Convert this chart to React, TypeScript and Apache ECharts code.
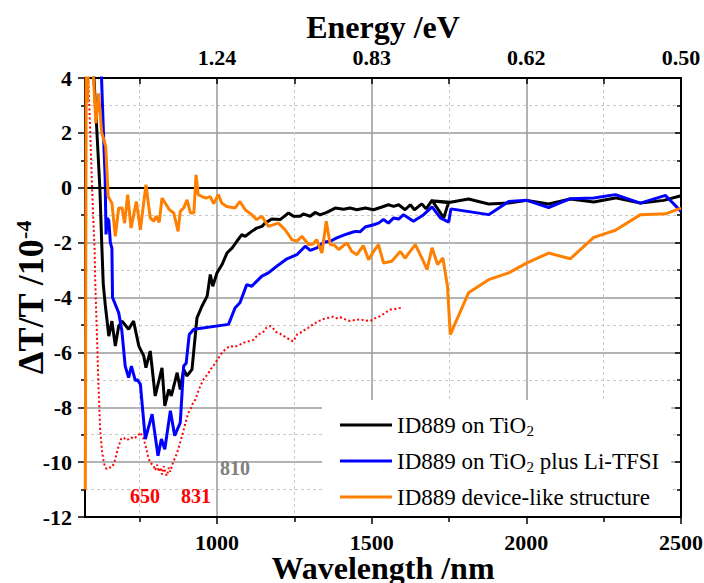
import React, { useEffect, useRef } from "react";
import * as echarts from "echarts";

const FONT = "Liberation Serif";

// Axis settings (values only)
const xMin = 573;
const xMax = 2500;
const xMajorTicks = [1000, 1500, 2000, 2500];
const xMinorTicks = [750, 1250, 1750, 2250];
const xTopTicks = [750, 1000, 1250, 1500, 1750, 2000, 2250, 2500];
const yMin = -12;
const yMax = 4;
const yInterval = 2;

const legendNames = [
  "ID889 on TiO2",
  "ID889 on TiO2 plus Li-TFSI",
  "ID889 device-like structure",
];

// [wavelength nm, dT/T x1e-4]
const blackData = [
  [598, 4.8], [610, 2.36], [621, 0], [627, -2.0], [632, -3.5], [639, -4.32], [650, -5.41],
  [660, -4.86], [671, -5.77], [682, -5.04], [693, -4.86], [714, -5.16], [730, -4.86],
  [747, -5.77], [763, -6.13], [770, -6.56], [784, -5.95], [800, -7.59], [822, -6.56],
  [831, -7.95], [844, -7.35], [852, -7.59], [871, -6.74], [881, -7.35], [892, -6.62],
  [903, -6.86], [919, -6.62], [935, -4.74], [951, -4.32], [968, -3.95], [978, -3.16],
  [986, -3.59], [1000, -3.1], [1016, -2.8], [1032, -2.38], [1049, -2.19], [1064, -1.95],
  [1080, -1.71], [1091, -1.77], [1112, -1.59], [1128, -1.47], [1145, -1.41], [1155, -1.29],
  [1177, -1.14], [1204, -1.16], [1231, -0.92], [1247, -1.04], [1269, -1.04], [1279, -0.95],
  [1301, -1.04], [1317, -0.9], [1333, -0.99], [1355, -0.9], [1382, -0.74], [1409, -0.78],
  [1430, -0.74], [1452, -0.8], [1479, -0.74], [1506, -0.8], [1533, -0.7], [1554, -0.62],
  [1571, -0.68], [1587, -0.62], [1608, -0.8], [1625, -0.62], [1638, -0.8], [1662, -0.59],
  [1676, -0.77], [1695, -0.46], [1733, -1.1], [1748, -0.55], [1692, -0.47], [1754, -0.53],
  [1813, -0.41], [1878, -0.59], [1943, -0.56], [2002, -0.46], [2072, -0.59], [2142, -0.41],
  [2218, -0.52], [2288, -0.37], [2369, -0.56], [2444, -0.46], [2500, -0.29],
];

const blueData = [
  [624, 4.8], [632, 2.2], [638, 0.4], [641, -1.7], [645, -1.1], [650, -1.2], [655, -2.0],
  [660, -2.2], [662, -4.0], [682, -4.56], [692, -5.2], [703, -6.5], [714, -6.92], [723, -6.5],
  [736, -7.04], [741, -6.98], [752, -7.16], [768, -9.16], [790, -8.25], [809, -9.77],
  [820, -9.16], [831, -9.53], [849, -8.13], [863, -9.04], [881, -8.56], [892, -6.5],
  [900, -6.4], [910, -5.35], [925, -5.16], [1037, -4.98], [1058, -4.38], [1074, -4.19],
  [1096, -3.53], [1112, -3.59], [1145, -3.22], [1166, -3.1], [1193, -2.86], [1226, -2.59],
  [1258, -2.44], [1285, -2.13], [1301, -2.28], [1323, -2.19], [1344, -1.99], [1366, -1.95],
  [1387, -1.83], [1414, -1.71], [1430, -1.65], [1447, -1.59], [1463, -1.6], [1479, -1.43],
  [1506, -1.35], [1522, -1.29], [1538, -1.16], [1554, -1.29], [1571, -1.1], [1587, -1.14],
  [1603, -0.98], [1635, -1.22], [1668, -0.98], [1695, -0.7], [1722, -1.1], [1749, -1.25],
  [1756, -0.77], [1878, -0.98], [1943, -0.5], [2002, -0.46], [2072, -0.72], [2142, -0.4],
  [2218, -0.37], [2288, -0.25], [2369, -0.56], [2450, -0.28], [2500, -0.86],
];

const orangeData = [
  [574, -11], [577, 4.8], [581, 3.1], [585, 4.8], [597, 4.8], [608, 2.35], [617, 3.44],
  [627, 2.0], [634, 1.75], [640, 1.5], [648, -0.32], [660, -0.56], [671, -1.77], [682, -0.74],
  [693, -0.74], [701, -1.29], [711, -0.25], [722, -1.47], [739, -0.5], [752, -1.53],
  [770, 0.11], [784, -1.1], [795, -1.22], [803, -1.04], [813, -1.26], [822, -0.38],
  [846, -0.8], [860, -0.92], [874, -1.59], [881, -0.86], [892, -0.74], [903, -0.44],
  [914, -0.92], [925, -0.92], [932, 0.47], [939, -0.25], [951, -0.32], [964, -0.38],
  [978, -0.32], [989, -0.58], [1004, -0.25], [1015, -0.56], [1031, -0.68], [1058, -0.74],
  [1074, -0.5], [1091, -0.8], [1112, -0.98], [1128, -1.16], [1145, -1.04], [1166, -1.41],
  [1198, -1.29], [1220, -1.53], [1242, -1.89], [1258, -1.95], [1274, -1.77], [1296, -2.07],
  [1310, -2.05], [1322, -1.89], [1339, -2.38], [1353, -1.22], [1366, -2.07], [1380, -2.1],
  [1393, -2.25], [1420, -2.01], [1436, -2.32], [1452, -2.44], [1473, -2.11], [1490, -2.62],
  [1506, -2.32], [1522, -2.07], [1538, -2.74], [1565, -2.68], [1592, -2.32], [1608, -2.56],
  [1641, -2.07], [1662, -2.56], [1679, -2.98], [1695, -2.19], [1713, -2.8], [1730, -2.56],
  [1745, -3.59], [1754, -5.35], [1813, -3.83], [1878, -3.35], [1943, -3.1], [2002, -2.74],
  [2072, -2.38], [2142, -2.59], [2218, -1.81], [2288, -1.55], [2369, -0.98], [2450, -0.95],
  [2500, -0.74],
];

const redData = [
  [583, 4.2], [590, 2.0], [595, 0.3], [601, -1.5], [604, -2.2], [606, -3.35], [612, -5.53],
  [617, -7.35], [622, -8.8], [628, -9.6], [633, -9.95], [638, -10.2], [644, -10.25],
  [652, -10.2], [660, -10.19], [666, -10.05], [671, -9.89], [677, -9.6], [682, -9.41],
  [690, -9.15], [698, -9.1], [706, -9.2], [714, -9.16], [722, -9.1], [730, -9.15],
  [736, -9.1], [744, -9.05], [752, -8.92], [758, -9.05], [763, -9.16], [771, -9.5],
  [779, -9.89], [787, -10.05], [795, -10.13], [800, -10.3], [806, -10.1], [812, -10.35],
  [817, -10.2], [822, -10.45], [828, -10.15], [833, -10.4], [838, -10.5], [844, -10.2],
  [849, -10.35], [854, -10.13], [860, -9.95], [866, -9.8], [871, -9.65], [879, -9.35],
  [887, -9.04], [895, -8.7], [902, -8.4], [908, -8.19], [915, -8.05], [922, -7.85],
  [930, -7.71], [938, -7.45], [945, -7.25], [951, -7.1], [958, -6.95], [966, -6.85],
  [973, -6.74], [980, -6.6], [988, -6.5], [995, -6.37], [1005, -6.2], [1016, -6.01],
  [1030, -5.85], [1043, -5.77], [1058, -5.8], [1074, -5.72], [1085, -5.65], [1100, -5.6],
  [1117, -5.55], [1128, -5.41], [1140, -5.3], [1150, -5.25], [1160, -5.1], [1172, -5.04],
  [1180, -5.1], [1190, -5.25], [1204, -5.32], [1215, -5.4], [1226, -5.47], [1236, -5.55],
  [1247, -5.6], [1258, -5.35], [1269, -5.29], [1280, -5.2], [1290, -5.16], [1301, -5.04],
  [1312, -4.98], [1322, -4.9], [1333, -4.84], [1345, -4.78], [1360, -4.74], [1375, -4.7],
  [1387, -4.76], [1398, -4.72], [1410, -4.78], [1420, -4.82], [1430, -4.86], [1445, -4.82],
  [1463, -4.8], [1480, -4.84], [1495, -4.86], [1510, -4.76], [1528, -4.68], [1545, -4.55],
  [1560, -4.44], [1575, -4.42], [1592, -4.38], [1600, -4.35],
];

const annotations = [
  { text: "650", color: "#ff0000" },
  { text: "831", color: "#ff0000" },
  { text: "810", color: "#808080" },
];

export default function App() {
  const ref = useRef<HTMLDivElement>(null);

  useEffect(() => {
    if (!ref.current) return;
    const chart = echarts.init(ref.current, null, { renderer: "svg" });

    const tickLabel = { fontFamily: FONT, fontSize: 22, fontWeight: "bold", color: "#000" };
    const axisName = { fontFamily: FONT, fontSize: 32, fontWeight: "bold", color: "#000" };
    const blackLine = { color: "#000", width: 2 };
    const tickLine = { color: "#000", width: 1.5 };
    const majorGrid = { color: "#9a9a9a", width: 1.5 };
    const minorGrid = { color: "#c8c8c8", width: 1, type: [3, 3] };

    const annPos = [
      [145, 496],
      [196, 496],
      [235, 468],
    ];

    const option: any = {
      animation: false,
      backgroundColor: "#fff",
      grid: {
        left: 85,
        right: 23,
        top: 78,
        bottom: 66,
        containLabel: false,
        outerBoundsMode: "none",
      },
      xAxis: [
        {
          type: "value",
          position: "bottom",
          min: xMin,
          max: xMax,
          name: "Wavelength /nm",
          nameLocation: "middle",
          nameGap: 38,
          nameMoveOverlap: false,
          nameTextStyle: { ...axisName, lineHeight: 26 },
          axisLine: { show: true, onZero: false, lineStyle: blackLine },
          axisTick: { show: true, inside: false, length: 7, lineStyle: tickLine, customValues: xMajorTicks },
          axisLabel: {
            ...tickLabel,
            margin: 14,
            lineHeight: 22,
            customValues: xMajorTicks,
            formatter: (v: number) => String(v),
          },
          splitLine: { show: true, lineStyle: majorGrid },
        },
        {
          type: "value",
          position: "bottom",
          min: xMin,
          max: xMax,
          axisLine: { show: false, onZero: false },
          axisTick: { show: true, inside: false, length: 5, lineStyle: tickLine, customValues: xMinorTicks },
          axisLabel: { show: false },
          splitLine: { show: true, lineStyle: minorGrid },
        },
        {
          type: "value",
          position: "top",
          min: xMin,
          max: xMax,
          name: "Energy /eV",
          nameLocation: "middle",
          nameGap: 35,
          nameMoveOverlap: false,
          nameTextStyle: axisName,
          axisLine: { show: true, onZero: false, lineStyle: blackLine },
          axisTick: { show: true, inside: true, length: 6, lineStyle: tickLine, customValues: xTopTicks },
          axisLabel: {
            ...tickLabel,
            margin: 10,
            customValues: xMajorTicks,
            formatter: (v: number) => (1240 / v).toFixed(2),
          },
          splitLine: { show: false },
        },
      ],
      yAxis: [
        {
          type: "value",
          position: "left",
          min: yMin,
          max: yMax,
          interval: yInterval,
          name: "{a|ΔT/T /10}{sup|-4}",
          nameLocation: "middle",
          nameGap: 35,
          nameMoveOverlap: false,
          nameRotate: 90,
          nameTextStyle: {
            ...axisName,
            fontSize: 36,
            rich: {
              a: { fontFamily: FONT, fontSize: 36, fontWeight: "bold", color: "#000", lineHeight: 38 },
              sup: { fontFamily: FONT, fontSize: 22, fontWeight: "bold", color: "#000", lineHeight: 22, verticalAlign: "top" },
            },
          },
          axisLine: { show: true, onZero: false, lineStyle: blackLine },
          axisTick: { show: true, inside: false, length: 7, lineStyle: tickLine },
          minorTick: { show: true, splitNumber: 2, length: 4, lineStyle: tickLine },
          axisLabel: { ...tickLabel, margin: 13, formatter: (v: number) => String(v) },
          splitLine: { show: true, lineStyle: majorGrid },
          minorSplitLine: { show: true, lineStyle: minorGrid },
        },
        {
          type: "value",
          position: "right",
          min: yMin,
          max: yMax,
          interval: yInterval,
          axisLine: { show: true, onZero: false, lineStyle: blackLine },
          axisTick: { show: true, inside: true, length: 6, lineStyle: tickLine },
          minorTick: { show: true, splitNumber: 2, length: 4, lineStyle: tickLine },
          axisLabel: { show: false },
          splitLine: { show: false },
        },
      ],
      legend: {
        data: legendNames,
        orient: "vertical",
        left: 322,
        top: 400,
        backgroundColor: "#fff",
        padding: [12, 12, 6, 18],
        itemWidth: 52,
        itemHeight: 3,
        itemGap: 10,
        icon: "rect",
        selectedMode: false,
        formatter: (name: string) => name.replace("TiO2", "TiO{sub|2}"),
        textStyle: {
          fontFamily: FONT,
          fontSize: 23,
          color: "#000",
          lineHeight: 26,
          rich: {
            sub: { fontFamily: FONT, fontSize: 15, color: "#000", lineHeight: 12, verticalAlign: "bottom" },
          },
        },
      },
      graphic: annotations.map((a, i) => ({
        type: "text",
        x: annPos[i][0],
        y: annPos[i][1],
        z: 10,
        style: {
          text: a.text,
          fill: a.color,
          fontFamily: FONT,
          fontSize: 20,
          fontWeight: "bold",
          textAlign: "center",
          textVerticalAlign: "middle",
        },
      })),
      series: [
        {
          name: "ID889 reference (dotted)",
          type: "line",
          xAxisIndex: 0,
          yAxisIndex: 0,
          data: redData,
          showSymbol: false,
          symbol: "none",
          lineStyle: { color: "#ff0000", width: 2, type: [2, 2.5] },
          itemStyle: { color: "#ff0000" },
          z: 2,
        },
        {
          name: legendNames[0],
          type: "line",
          xAxisIndex: 0,
          yAxisIndex: 0,
          data: blackData,
          showSymbol: false,
          symbol: "none",
          lineStyle: { color: "#000", width: 3 },
          itemStyle: { color: "#000" },
          z: 3,
          markLine: {
            silent: true,
            symbol: "none",
            label: { show: false },
            lineStyle: { color: "#000", width: 2, type: "solid" },
            data: [{ yAxis: 0 }],
          },
        },
        {
          name: legendNames[1],
          type: "line",
          xAxisIndex: 0,
          yAxisIndex: 0,
          data: blueData,
          showSymbol: false,
          symbol: "none",
          lineStyle: { color: "#0000ff", width: 3 },
          itemStyle: { color: "#0000ff" },
          z: 4,
        },
        {
          name: legendNames[2],
          type: "line",
          xAxisIndex: 0,
          yAxisIndex: 0,
          data: orangeData,
          showSymbol: false,
          symbol: "none",
          lineStyle: { color: "#ff8000", width: 3 },
          itemStyle: { color: "#ff8000" },
          z: 5,
        },
      ],
    };

    chart.setOption(option);
    return () => chart.dispose();
  }, []);

  return (
    <div
      ref={ref}
      style={{ position: "absolute", left: 0, top: 0, width: 704, height: 583, background: "#fff" }}
    />
  );
}
